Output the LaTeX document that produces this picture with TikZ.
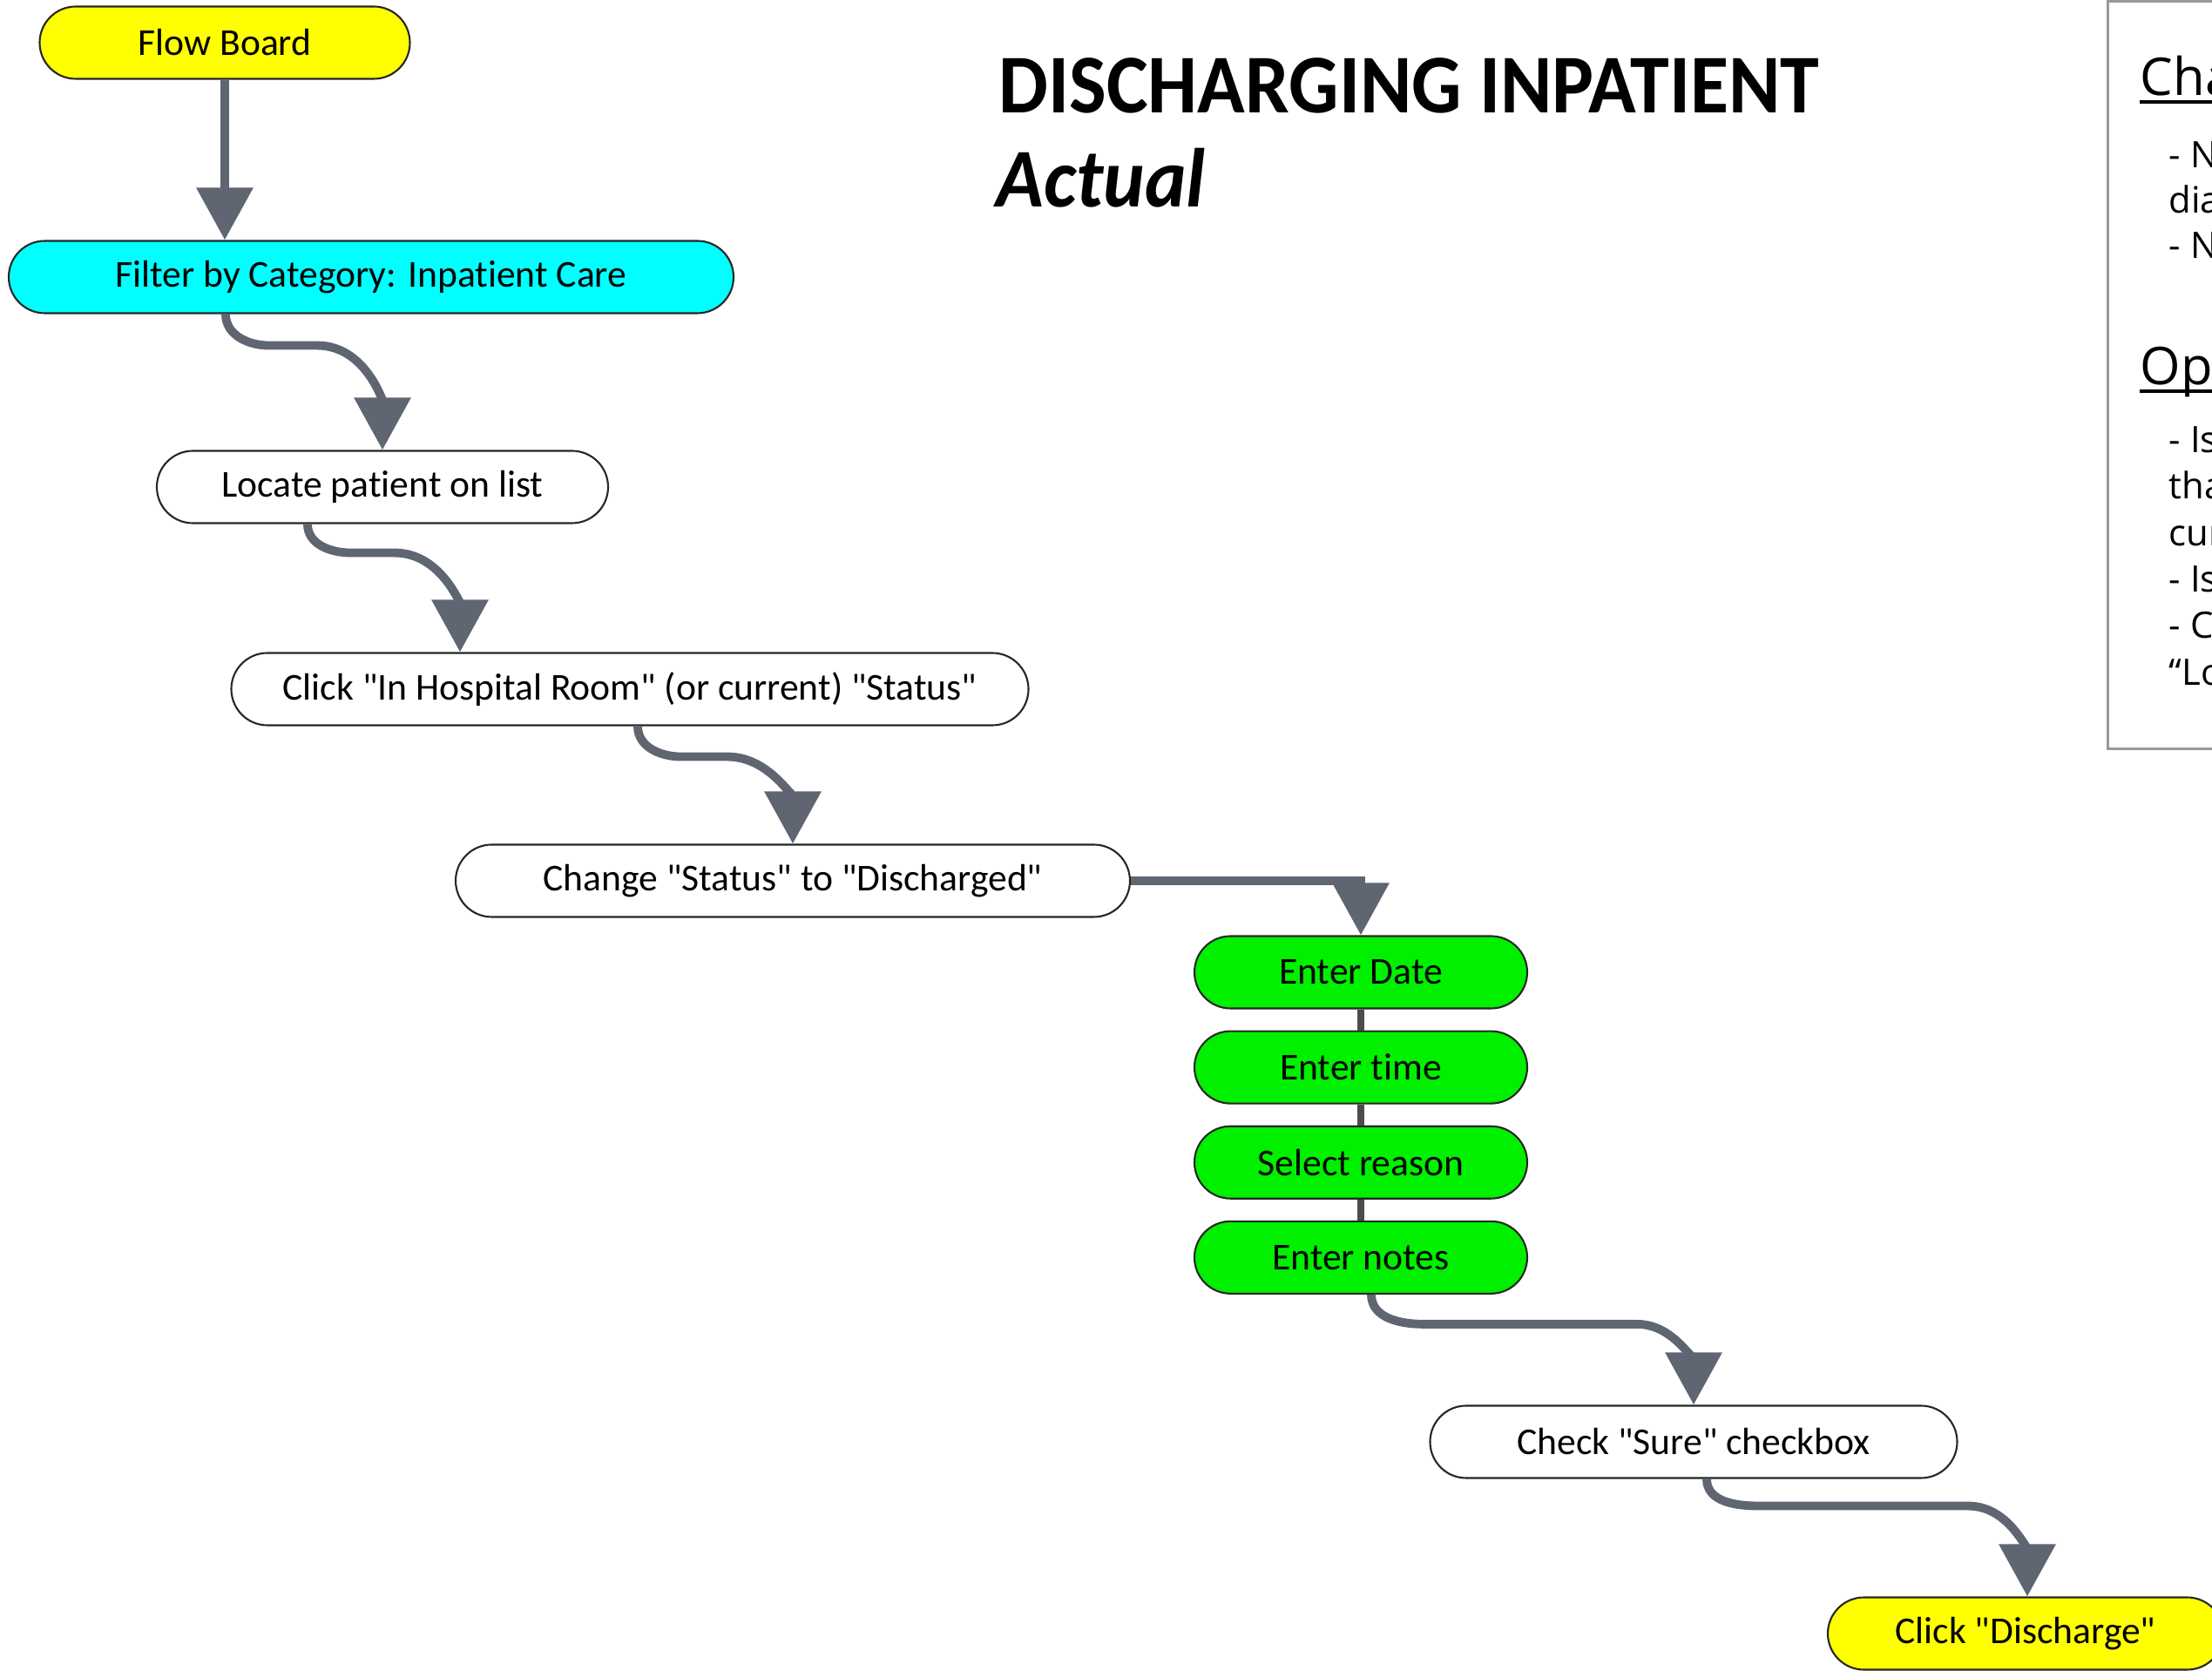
\documentclass[tikz,border=0pt]{standalone}
\usepackage{fontspec}
\setmainfont{Carlito}[Ligatures=NoCommon]
\newfontfamily\titlefont[FakeStretch=0.94]{Carlito}
\newfontfamily\panelfont{Open Sans}
\usetikzlibrary{shapes,arrows.meta,positioning}
\definecolor{flowgray}{HTML}{5F6672}
\definecolor{stepgreen}{HTML}{00F000}
\definecolor{stepcyan}{HTML}{00FFFF}
\definecolor{stepyellow}{HTML}{FFFF00}
\newcommand{\qt}[1]{\textquotedbl#1\textquotedbl}
\tikzset{
    %Define standard arrow tip
    >={Triangle[width=0.63cm,length=0.6cm]},
    %Define style for boxes
    block/.style={
           rectangle,
           rounded corners=0.415cm,
           draw=black!85,
           line width=0.6pt,
           fill=white,
           minimum height=0.83cm,
           font=\fontsize{12.4}{14}\selectfont,
           text centered},
    % Define style for the green sub-steps
    substep/.style={
           block,
           fill=stepgreen,
           minimum width=3.82cm},
    % Define arrow style
    arrow/.style={
           ->,
           draw=flowgray,
           line width=2.8pt},
    % Define style for the links between sub-steps
    link/.style={
           draw=black!70,
           line width=2.2pt},
    % Define styles for the side panel
    panelhead/.style={
           anchor=base west,
           inner sep=0pt,
           font=\panelfont\fontsize{17}{20}\selectfont},
    paneltext/.style={
           anchor=base west,
           inner sep=0pt,
           font=\panelfont\fontsize{11.9}{14}\selectfont}
}

\begin{document}
\begin{tikzpicture}
    \useasboundingbox (0,0) rectangle (25.39,-19.18);
    \clip (0,0) rectangle (25.39,-19.18);

    % title
    \node [anchor=base west, inner sep=0pt, font=\titlefont\bfseries\fontsize{27.3}{30}\selectfont] (title) at (11.46,-1.30) {DISCHARGING INPATIENT};
    \node [anchor=base west, inner sep=0pt, font=\titlefont\bfseries\itshape\fontsize{27.3}{30}\selectfont] (subtitle) at (11.43,-2.38) {Actual};

    % steps
    \node [block, fill=stepyellow, minimum width=4.25cm] (flow) at (2.58,-0.49) {Flow Board};
    \node [block, fill=stepcyan, minimum width=8.32cm] (filter) at (4.26,-3.18) {Filter by Category: Inpatient Care};
    \node [block, minimum width=5.18cm] (locate) at (4.39,-5.59) {Locate patient on list};
    \node [block, minimum width=9.15cm] (room) at (7.23,-7.91) {Click \qt{In Hospital Room} (or current) \qt{Status}};
    \node [block, minimum width=7.74cm] (change) at (9.10,-10.11) {Change \qt{Status} to \qt{Discharged}};
    \node [substep] (date) at (15.62,-11.16) {Enter Date};
    \node [substep, below=0.24cm of date] (time) {Enter time};
    \node [substep, below=0.24cm of time] (reason) {Select reason};
    \node [substep, below=0.24cm of reason] (notes) {Enter notes};
    \node [block, minimum width=6.05cm] (sure) at (19.44,-16.55) {Check \qt{Sure} checkbox};
    \node [block, fill=stepyellow, minimum width=4.54cm] (discharge) at (23.25,-18.75) {Click \qt{Discharge}};

    \draw[arrow] (flow) -- (flow |- filter.north);
    \draw[arrow] ([xshift=-1.67cm]filter.south) to[out=-90,in=180] ++(0.5,-0.36) -- ++(0.55,0) to[out=0,in=90] (locate.north);
    \draw[arrow] ([xshift=-0.86cm]locate.south) to[out=-90,in=180] ++(0.5,-0.33) -- ++(0.5,0) to[out=0,in=90] ([xshift=-1.95cm]room.north);
    \draw[arrow] ([xshift=0.09cm]room.south) to[out=-90,in=180] ++(0.5,-0.35) -- ++(0.53,0) to[out=0,in=90] (change.north);
    \draw[arrow] (change.east) -| (date.north);
    \draw[link] (date) -- (time) (time) -- (reason) (reason) -- (notes);
    \draw[arrow] ([xshift=0.12cm]notes.south) to[out=-90,in=180] ++(0.6,-0.34) -- ++(2.45,0) to[out=0,in=90] (sure.north);
    \draw[arrow] ([xshift=0.15cm]sure.south) to[out=-90,in=180] ++(0.6,-0.31) -- ++(2.4,0) to[out=0,in=90] ([xshift=0.02cm]discharge.north);

    % side panel
    \draw[draw=black!40, line width=0.85pt] (24.19,-0.02) rectangle (26.5,-8.60);
    \node [panelhead] (changes) at (24.56,-1.10) {Cha};
    \draw[line width=1.1pt] ([yshift=-0.07cm]changes.base west) -- ++(1.5,0);
    \node [paneltext] (c1) at (24.89,-1.93) {- N};
    \node [paneltext] (c2) at (24.89,-2.45) {dia};
    \node [paneltext] (c3) at (24.89,-2.97) {- N};
    \node [panelhead] (open) at (24.56,-4.42) {Ope};
    \draw[line width=1.1pt] ([yshift=-0.07cm]open.base west) -- ++(1.5,0);
    \node [paneltext] (o1) at (24.89,-5.20) {- Is};
    \node [paneltext] (o2) at (24.89,-5.73) {tha};
    \node [paneltext] (o3) at (24.89,-6.27) {cur};
    \node [paneltext] (o4) at (24.89,-6.80) {- Is};
    \node [paneltext] (o5) at (24.89,-7.33) {- Ca};
    \node [paneltext] (o6) at (24.89,-7.87) {“Lo};
\end{tikzpicture}
\end{document}
